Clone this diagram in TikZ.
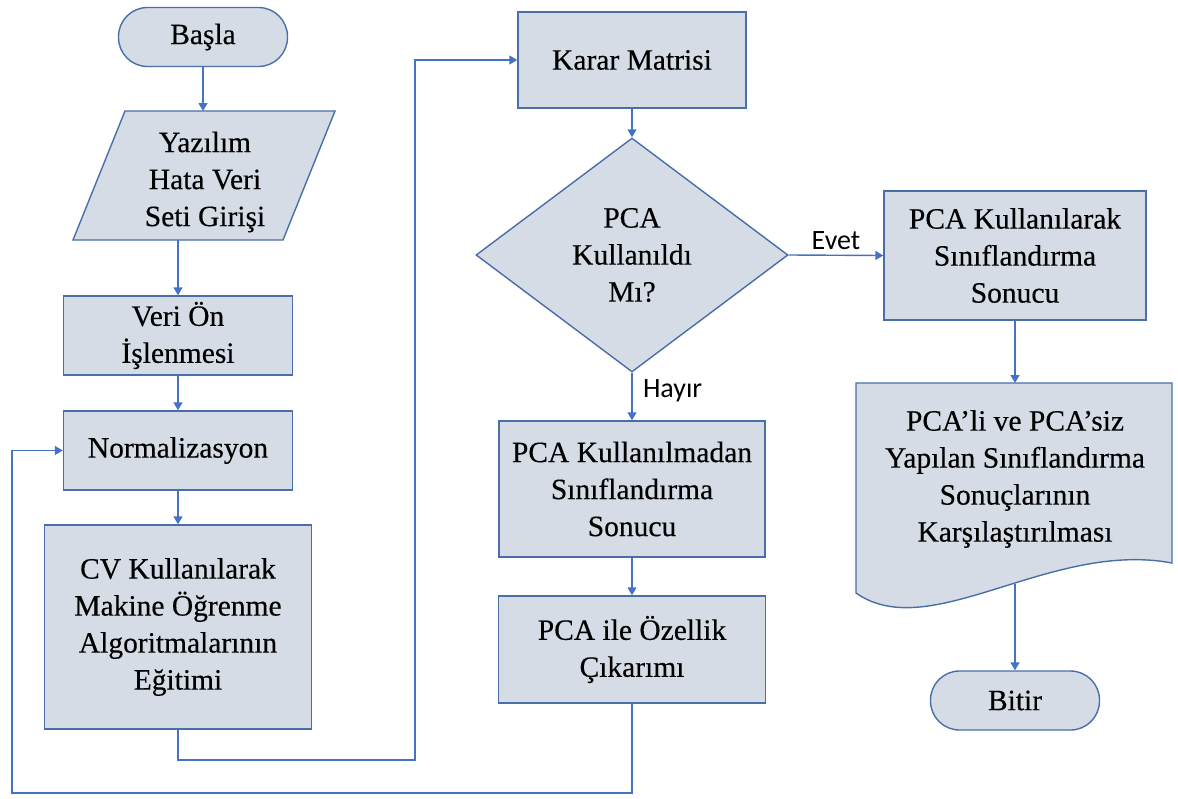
\documentclass[tikz,border=0pt]{standalone}
\usepackage{fontspec}
\setmainfont{Liberation Serif}[FakeBold=0.35]
\newfontfamily\labelfont{Carlito}
\usetikzlibrary{arrows.meta,shapes.geometric}
\definecolor{boxfill}{HTML}{D6DCE5}
\definecolor{boxline}{HTML}{4A6FA8}
\definecolor{flow}{HTML}{4472C4}
\tikzset{
  base/.style={draw=boxline, fill=boxfill, line width=1.4pt,
    font=\fontsize{29.5}{37}\selectfont, align=center, inner sep=0pt},
  procbox/.style={base, rectangle},
  term/.style={base, rounded corners=29pt},
  shapeline/.style={draw=boxline, fill=boxfill, line width=1.4pt},
  bodytext/.style={font=\fontsize{29.5}{37}\selectfont, align=center, inner sep=0pt},
  flowline/.style={draw=flow, line width=1.4pt},
  arr/.style={flowline, -{Triangle[width=9pt,length=8pt]}},
  branch/.style={font=\labelfont\fontsize{28}{32}\selectfont, text=black}
}
\begin{document}
\begin{tikzpicture}[x=1pt,y=-1pt]
\useasboundingbox (0,0) rectangle (1178,798);

% left column
\node[term, minimum width=169pt, minimum height=59pt] (start) at (203,37) {\raisebox{-2pt}{Başla}};

\draw[shapeline] (125,111) -- (335,111) -- (283,240) -- (73,240) -- cycle;
\coordinate (inTop) at (203,111);
\coordinate (inBot) at (178,240);
\node[bodytext] (input) at (205,182) {Yazılım\\Hata Veri\\Seti Girişi};

\node[procbox, minimum width=229pt, minimum height=79pt] (prep) at (178,335.5) {Veri Ön\\İşlenmesi};
\node[procbox, minimum width=229pt, minimum height=79pt] (norm) at (178,450.5) {Normalizasyon};
\node[procbox, minimum width=267pt, minimum height=204pt] (train) at (178,627)
  {CV Kullanılarak\\Makine Öğrenme\\Algoritmalarının\\Eğitimi};

% middle column
\node[procbox, minimum width=228pt, minimum height=96pt] (karar) at (632,60) {Karar Matrisi};
\node[base, diamond, minimum width=312pt, minimum height=234pt, aspect=1.333] (dec) at (632,255)
  {PCA\\Kullanıldı\\Mı?};
\node[procbox, minimum width=266pt, minimum height=136pt] (nopca) at (632,489)
  {PCA Kullanılmadan\\Sınıflandırma\\Sonucu};
\node[procbox, minimum width=267pt, minimum height=107pt] (feat) at (632,649.5)
  {PCA ile Özellik\\Çıkarımı};

% right column
\node[procbox, minimum width=262pt, minimum height=129pt] (withpca) at (1015,255.5)
  {PCA Kullanılarak\\Sınıflandırma\\Sonucu};
\draw[shapeline] (856,383) -- (1172,383) -- (1172,563)
  .. controls (1050,540) and (930,645) .. (856,593) -- cycle;
\coordinate (docTop) at (1015,383);
\coordinate (docBot) at (1015,584);
\node[bodytext] (compare) at (1015,479)
  {PCA’li ve PCA’siz\\Yapılan Sınıflandırma\\Sonuçlarının\\Karşılaştırılması};
\node[term, minimum width=169pt, minimum height=59pt] (finish) at (1015,700.5) {Bitir};

% connectors
\coordinate (loopA) at (415,760);
\coordinate (loopB) at (12,793);
\draw[arr] (start.south) -- (inTop);
\draw[arr] (inBot) -- (prep.north);
\draw[arr] (prep.south) -- (norm.north);
\draw[arr] (norm.south) -- (train.north);
\draw[arr] (train.south) |- (loopA) |- (karar.west);
\draw[arr] (karar.south) -- (dec.north);
\draw[arr] (dec.east) -- (withpca.west) node[branch, midway, above, yshift=2pt] {Evet};
\draw[arr] (dec.south) -- (nopca.north) node[branch, midway, right, xshift=7pt, yshift=6pt] {Hayır};
\draw[arr] (nopca.south) -- (feat.north);
\draw[arr] (feat.south) |- (loopB) |- (norm.west);
\draw[arr] (withpca.south) -- (docTop);
\draw[arr] (docBot) -- (finish.north);
\end{tikzpicture}
\end{document}
